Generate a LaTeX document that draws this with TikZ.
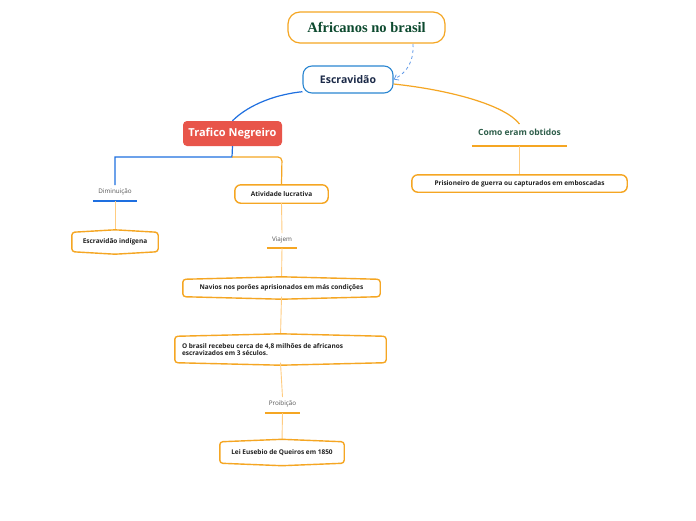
\documentclass[tikz,border=0pt]{standalone}
\usepackage{fontspec}
\setmainfont{Open Sans}
\newfontfamily\titlefont{Liberation Serif}
\usetikzlibrary{arrows.meta}
\definecolor{org}{HTML}{F5A623}
\definecolor{lorg}{HTML}{FFCC80}
\definecolor{blu}{HTML}{1E6FE0}
\definecolor{bluframe}{HTML}{2A86D1}
\definecolor{dgreen}{HTML}{0D4A2F}
\definecolor{tgreen}{HTML}{2E5E4A}
\definecolor{navy}{HTML}{1C2A48}
\definecolor{redf}{HTML}{E8554A}
\definecolor{txt}{HTML}{222222}
\definecolor{lbl}{HTML}{555555}
\tikzset{
  boxline/.style={draw=org,line width=1.4pt,rounded corners=3pt,fill=white},
  smalltxt/.style={font=\fontsize{6.5}{7.8}\selectfont\bfseries,text=txt,inner sep=0pt},
  lbltxt/.style={font=\fontsize{6.3}{7.5}\selectfont,text=lbl,inner sep=0pt,anchor=south},
  conn/.style={draw=lorg,line width=0.9pt},
  oconn/.style={draw=org,line width=1.2pt},
  bconn/.style={draw=blu,line width=1.2pt},
}
\newcommand\hexframe[1]{%
  \path[boxline] (#1.north west) -- ([yshift=2.5pt]#1.north) -- (#1.north east) -- (#1.south east) -- ([yshift=-2.5pt]#1.south) -- (#1.south west) -- cycle;}
\begin{document}
\begin{tikzpicture}[x=1pt,y=-1pt]
\useasboundingbox (0,0) rectangle (696,520);
\fill[white] (0,0) rectangle (696,520);

\coordinate (tb) at (232,157);

% Title
\node[draw=org,line width=1.2pt,rounded corners=12pt,fill=white,minimum width=157pt,minimum height=31pt,inner sep=0pt,
  font=\titlefont\fontsize{14.5}{16}\selectfont\bfseries,text=dgreen] (af) at (366.5,27.5) {Africanos no brasil};
% Escravidao
\node[draw=bluframe,line width=1.1pt,rounded corners=9pt,fill=white,minimum width=90pt,minimum height=27pt,inner sep=0pt,
  font=\fontsize{10.5}{12}\selectfont\bfseries,text=navy] (esc) at (348,79.5) {Escravidão};
% Trafico
\node[fill=redf,rounded corners=4pt,minimum width=99pt,minimum height=25pt,inner sep=0pt,
  font=\fontsize{11}{12}\selectfont\bfseries,text=white] (tr) at (232.5,133.5) {Trafico Negreiro};
% Como eram obtidos
\node[font=\fontsize{8.5}{10}\selectfont\bfseries,text=tgreen,inner sep=0pt,anchor=south,minimum width=95pt,minimum height=26pt] (co) at (519.5,146) {Como eram obtidos};
\draw[oconn] (co.south west) -- (co.south east);

% curves from Escravidao
\draw[bconn] (esc.195) .. controls (270,95) and (245,108) .. (tr.north);
\draw[oconn] (esc.east |- 0,84) .. controls (450,90) and (505,105) .. (519.5,124);
\draw[blu!70,line width=0.8pt,dashed,-{Straight Barb[length=4pt,width=6pt]}] (413,44) .. controls (414,60) and (408,72) .. (esc.east);

% Prisioneiro
\node[smalltxt,minimum width=215pt,minimum height=17pt] (pr) at (519.5,183.5) {};
\draw[conn] (co.south) -- (pr.north);
\draw[boxline,rounded corners=6pt] (pr.south west) rectangle (pr.north east);
\node[smalltxt] at (pr.center) {Prisioneiro de guerra ou capturados em emboscadas};

% Diminuicao
\node[lbltxt,minimum width=44pt,minimum height=18pt] (di) at (115,201) {Diminuição};
\draw[bconn] (tr.south) -- (tb) -- (115,157) -- (115,185);
\draw[bconn] (di.south west) -- (di.south east);

% Atividade
\node[smalltxt,minimum width=93pt,minimum height=18pt] (at) at (281.5,194) {};
\draw[oconn,rounded corners=4pt] (tb) -- (282,157) -- (at.north);
\draw[boxline,rounded corners=6pt] (at.south west) rectangle (at.north east);
\node[smalltxt] at (at.center) {Atividade lucrativa};

% Escravidao indigena
\node[smalltxt,minimum width=86pt,minimum height=19pt] (ei) at (115,242) {};
\draw[conn] (di.south) -- (ei.north);
\hexframe{ei}
\node[smalltxt] at (ei.center) {Escravidão indígena};

% Viajem
\node[lbltxt,minimum width=30pt,minimum height=16pt] (vi) at (282,248) {Viajem};
\draw[oconn] (vi.south west) -- (vi.south east);
\draw[conn] (at.south) -- (282,233);

% Navios
\node[smalltxt,minimum width=197pt,minimum height=17pt] (na) at (281.5,288) {};
\draw[conn] (vi.south) -- (na.north);
\hexframe{na}
\node[smalltxt] at (na.center) {Navios nos porões aprisionados em más condições};

% O brasil
\node[smalltxt,minimum width=211pt,minimum height=26pt] (ob) at (280.5,349.5) {};
\draw[conn] (na.south) -- (ob.north);
\hexframe{ob}
\node[smalltxt,align=left,anchor=west] at ([xshift=7pt]ob.west) {O brasil recebeu cerca de 4,8 milhões de africanos\\escravizados em 3 séculos.};

% Proibicao
\node[lbltxt,minimum width=35pt,minimum height=18pt] (pb) at (282.5,413) {Proibição};
\draw[oconn] (pb.south west) -- (pb.south east);
\draw[conn] (ob.south) -- (282.5,397);

% Lei
\node[smalltxt,minimum width=124pt,minimum height=21pt] (le) at (282,452.5) {};
\draw[conn] (pb.south) -- (le.north);
\hexframe{le}
\node[smalltxt] at (le.center) {Lei Eusebio de Queiros em 1850};
\end{tikzpicture}
\end{document}
